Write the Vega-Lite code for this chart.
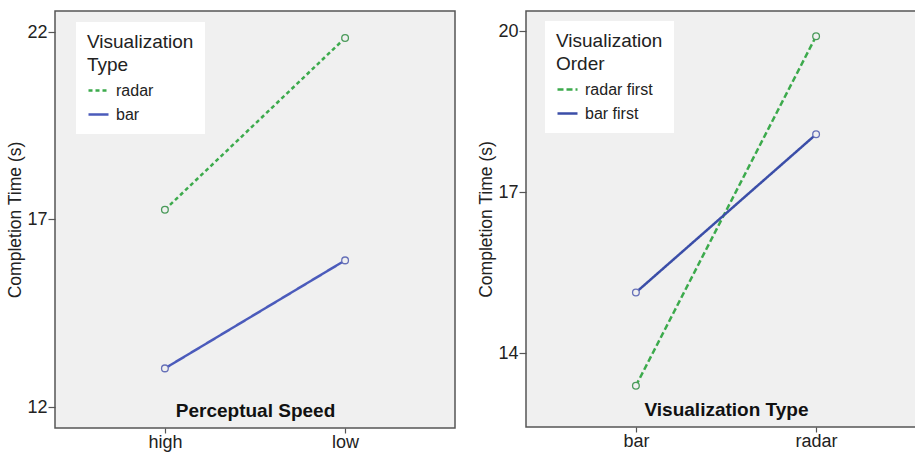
{
  "$schema": "https://vega.github.io/schema/vega-lite/v6.json",
  "padding": {"left": 6, "top": 10, "right": 0, "bottom": 0},
  "background": "white",
  "spacing": 21,
  "config": {
    "font": "Liberation Sans",
    "view": {"fill": "#f0f0f0", "stroke": "#555555", "strokeWidth": 1.5},
    "axis": {
      "labelFont": "Liberation Sans",
      "titleFont": "Liberation Sans",
      "labelColor": "#222222",
      "titleColor": "#222222",
      "domain": false,
      "grid": false,
      "tickColor": "#555555",
      "tickWidth": 1.2
    },
    "axisY": {"labelFontSize": 18, "titleFontSize": 17.5, "titleFontWeight": "normal", "tickSize": 7, "labelPadding": 1, "titlePadding": 2},
    "axisX": {"labelFontSize": 18, "labelAngle": 0, "tickSize": 5, "labelPadding": 0, "titleFontSize": 19, "titleFontWeight": "bold", "titleY": -27, "titleBaseline": "top", "titleColor": "#111111"}
  },
  "hconcat": [
    {
      "width": 400,
      "height": 417,
      "data": {"values": [
        {"speed": "high", "type": "radar", "time": 17.26},
        {"speed": "low", "type": "radar", "time": 21.84},
        {"speed": "high", "type": "bar", "time": 13.03},
        {"speed": "low", "type": "bar", "time": 15.91}
      ]},
      "encoding": {
        "x": {"field": "speed", "type": "nominal", "title": "Perceptual Speed", "sort": ["high", "low"], "scale": {"type": "point", "padding": 0.61}},
        "y": {"field": "time", "type": "quantitative", "title": "Completion Time (s)", "scale": {"domain": [11.44, 22.56], "nice": false, "zero": false}, "axis": {"values": [12, 17, 22]}}
      },
      "layer": [
        {
          "mark": {"type": "line", "strokeWidth": 2.5},
          "encoding": {
            "color": {"field": "type", "type": "nominal", "title": ["Visualization", "Type"], "scale": {"domain": ["radar", "bar"], "range": ["#3caa4c", "#4b5bbb"]},
              "legend": {"orient": "none", "legendX": 21, "legendY": 11, "fillColor": "white", "padding": 11, "titleFontSize": 19, "titleFontWeight": "normal", "titleColor": "#222222", "titleLineHeight": 23, "titlePadding": 4, "labelFontSize": 16, "labelColor": "#222222", "labelOffset": 6, "symbolType": "stroke", "symbolSize": 400, "symbolStrokeWidth": 2.5, "rowPadding": 4}},
            "strokeDash": {"field": "type", "type": "nominal", "title": ["Visualization", "Type"], "scale": {"domain": ["radar", "bar"], "range": [[4, 3], [1, 0]]}}
          }
        },
        {
          "mark": {"type": "point", "shape": "circle", "filled": false, "size": 45, "strokeWidth": 1.3, "fill": "#f0f0f0", "fillOpacity": 1},
          "encoding": {
            "stroke": {"field": "type", "type": "nominal", "legend": null, "scale": {"domain": ["radar", "bar"], "range": ["#4a9a5a", "#6670b8"]}}
          }
        }
      ]
    },
    {
      "width": 400,
      "height": 416,
      "data": {"values": [
        {"vis": "bar", "order": "radar first", "time": 13.39},
        {"vis": "radar", "order": "radar first", "time": 19.91},
        {"vis": "bar", "order": "bar first", "time": 15.13},
        {"vis": "radar", "order": "bar first", "time": 18.08}
      ]},
      "encoding": {
        "x": {"field": "vis", "type": "nominal", "title": "Visualization Type", "sort": ["bar", "radar"], "scale": {"type": "point", "padding": 0.61}},
        "y": {"field": "time", "type": "quantitative", "title": "Completion Time (s)", "scale": {"domain": [12.62, 20.38], "nice": false, "zero": false}, "axis": {"values": [14, 17, 20]}}
      },
      "layer": [
        {
          "mark": {"type": "line", "strokeWidth": 2.5},
          "encoding": {
            "color": {"field": "order", "type": "nominal", "title": ["Visualization", "Order"], "scale": {"domain": ["radar first", "bar first"], "range": ["#3caa4c", "#3b4ea8"]},
              "legend": {"orient": "none", "legendX": 19, "legendY": 10, "fillColor": "white", "padding": 11, "titleFontSize": 19, "titleFontWeight": "normal", "titleColor": "#222222", "titleLineHeight": 23, "titlePadding": 4, "labelFontSize": 16, "labelColor": "#222222", "labelOffset": 6, "symbolType": "stroke", "symbolSize": 400, "symbolStrokeWidth": 2.5, "rowPadding": 4}},
            "strokeDash": {"field": "order", "type": "nominal", "title": ["Visualization", "Order"], "scale": {"domain": ["radar first", "bar first"], "range": [[6, 3], [1, 0]]}}
          }
        },
        {
          "mark": {"type": "point", "shape": "circle", "filled": false, "size": 45, "strokeWidth": 1.3, "fill": "#f0f0f0", "fillOpacity": 1},
          "encoding": {
            "stroke": {"field": "order", "type": "nominal", "legend": null, "scale": {"domain": ["radar first", "bar first"], "range": ["#4a9a5a", "#6670b8"]}}
          }
        }
      ]
    }
  ],
  "resolve": {"scale": {"color": "independent", "strokeDash": "independent", "stroke": "independent", "x": "independent", "y": "independent"}, "legend": {"color": "independent", "strokeDash": "independent"}}
}
